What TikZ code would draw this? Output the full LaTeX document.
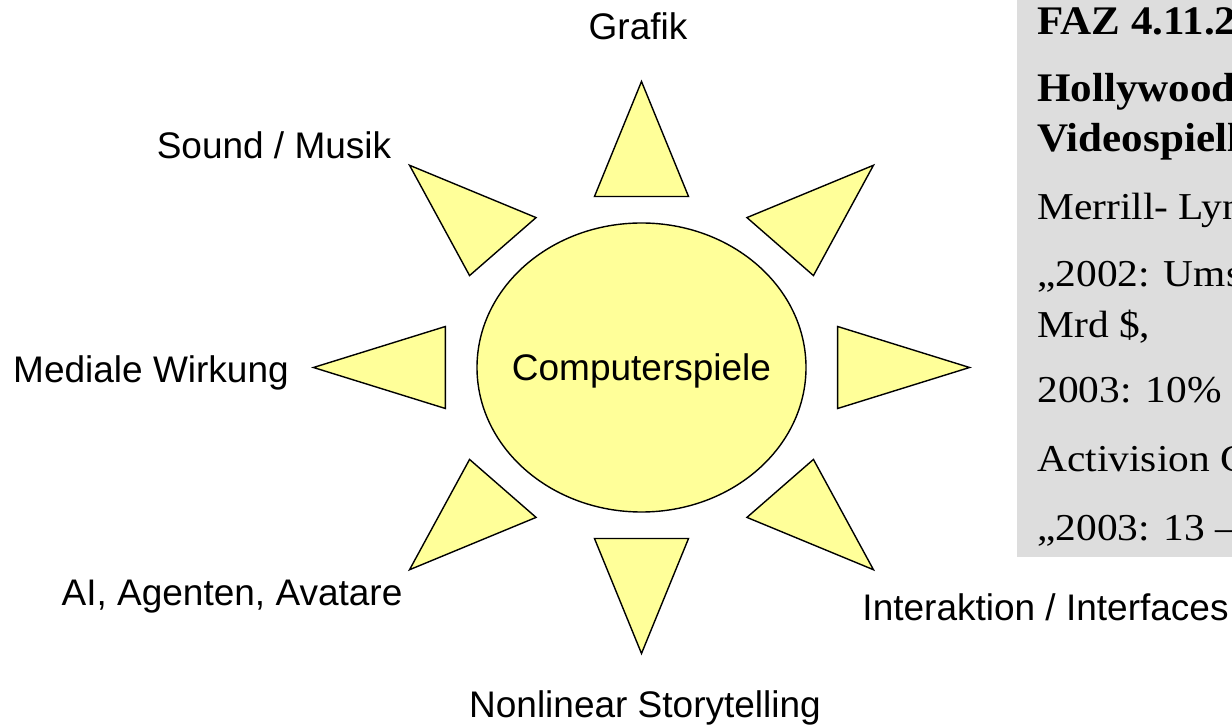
\documentclass[tikz,border=0pt]{standalone}
\usepackage{fontspec}
\setmainfont{Liberation Sans}
\newfontfamily\fazfont{Liberation Serif}
\usetikzlibrary{shapes.geometric}
\definecolor{sunyellow}{HTML}{FFFF99}
\definecolor{notegray}{HTML}{DDDDDD}

\begin{document}
\begin{tikzpicture}[x=0.5pt, y=-0.5pt,
  ray/.style={draw=black, line width=0.7pt, fill=sunyellow, line join=miter},
  topic/.style={anchor=base, inner sep=0pt, font=\fontsize{18.5}{22}\selectfont},
  note/.style={anchor=base west, inner sep=0pt, xscale=1.09, font=\fazfont\fontsize{19}{23}\selectfont},
  notehead/.style={anchor=base west, inner sep=0pt, xscale=1.06, font=\fazfont\bfseries\fontsize{20.3}{24}\selectfont}]
  % Frame
  \clip (0,0) rectangle (1232,726);

  % Rays of the sun
  \begin{scope}[shift={(641.5,367.5)}, xscale=1.147]
    \foreach \a in {0,45,...,315} {
      \draw[ray, rotate=\a] (171,-41) -- (286,0) -- (171,41) -- cycle;
    }
  \end{scope}

  % Centre
  \node (sun) [ellipse, draw=black, line width=0.7pt, fill=sunyellow, minimum width=164.5pt, minimum height=144.5pt,
    inner sep=0pt, label={[font=\fontsize{18.5}{22}\selectfont, text depth=0pt]center:Computerspiele}] at (641.5,367.5) {};

  % Topics
  \node (grafik) [topic] at (638,40) {Grafik};
  \node (sound) [topic] at (274,159) {Sound / Musik};
  \node (wirkung) [topic] at (151,383) {Mediale Wirkung};
  \node (agenten) [topic] at (232,606) {AI, Agenten, Avatare};
  \node (story) [topic] at (645,718) {Nonlinear Storytelling};
  \node (interface) [topic] at (1045.5,621) {Interaktion / Interfaces};

  % Newspaper note
  \fill[notegray] (1017,0) rectangle (1232,557);
  \foreach \y/\txt in {35/FAZ 4.11.2, 102/Hollywood, 152/Videospiell} {
    \node (head\y) [notehead] at (1037,\y) {\txt};
  }
  \foreach \y/\txt in {220/Merrill- Lyn, 287/„2002: Ums, 338/{Mrd \$,}, 403/2003: 10\%, 472/Activision C, 541/„2003: 13 –} {
    \node (note\y) [note] at (1037,\y) {\txt};
  }
\end{tikzpicture}
\end{document}
